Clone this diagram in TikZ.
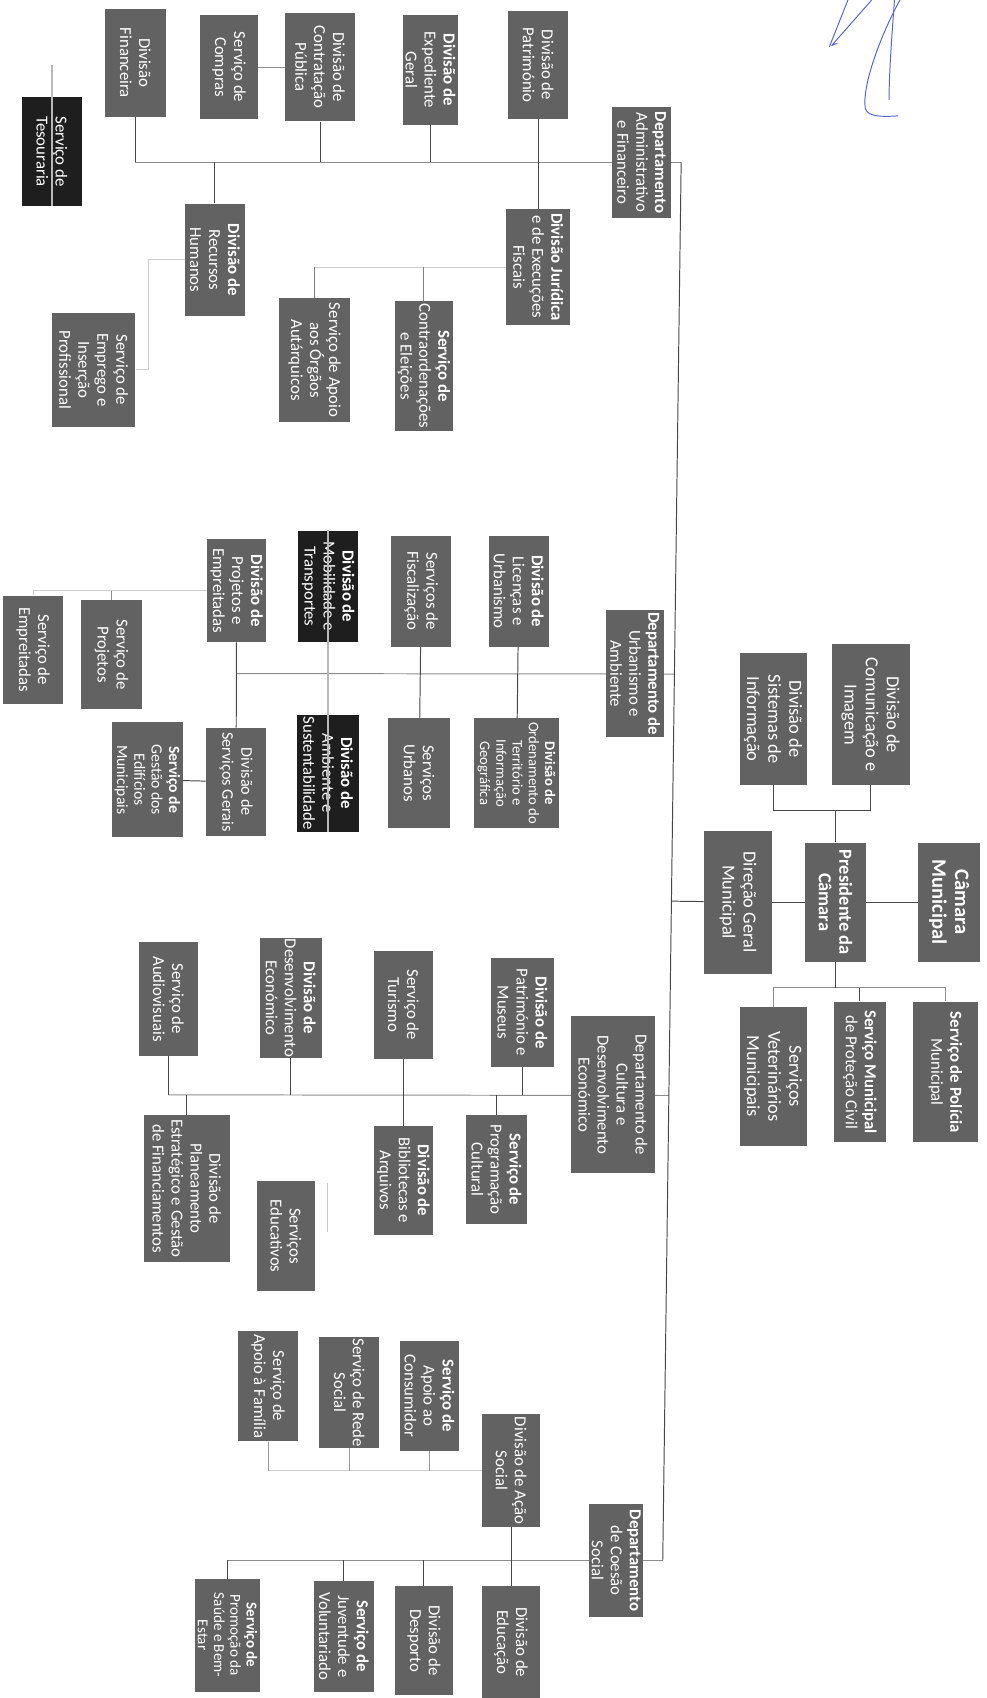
\documentclass[tikz,border=0pt]{standalone}
\usepackage{fontspec}
\setmainfont{Carlito}
\usetikzlibrary{calc, backgrounds}

\definecolor{boxgray}{RGB}{98,98,98}
\definecolor{boxblack}{RGB}{30,30,30}
\definecolor{inkblue}{RGB}{88,100,210}

\tikzset{
  box/.style={rectangle, fill=boxgray, text=white, rotate=-90, align=center, inner sep=1pt,
    minimum width=102pt, minimum height=55pt, font=\fontsize{15.5}{17.5}\selectfont},
  darkbox/.style={box, fill=boxblack},
  bigtext/.style={font=\fontsize{17}{19.5}\selectfont},
  link/.style={draw=black!72, line width=0.9pt},
  bus/.style={draw=black!45, line width=0.9pt},
  faint/.style={draw=black!20, line width=0.8pt},
  thru/.style={draw=black!28, line width=1.4pt},
  sig/.style={draw=inkblue, line width=0.9pt, line cap=round, line join=round}
}

\begin{document}
\begin{tikzpicture}[x=1pt, y=-1pt]
  \useasboundingbox (0,0) rectangle (911,1568);

  % Main trunk ends
  \coordinate (tTop) at (629,150);
  \coordinate (tBot) at (612,1441);

  % Departamento Administrativo e Financeiro
  \node[box, minimum width=100pt, minimum height=56pt] (fin) at (125,58) {Divisão\\Financeira};
  \node[box, minimum width=96pt, minimum height=53pt] (comp) at (211.5,62) {Serviço de\\Compras};
  \node[box, minimum width=100pt, minimum height=65pt] (contr) at (295.5,62) {Divisão de\\Contratação\\Pública};
  \node[box, minimum width=101pt, minimum height=51pt] (exped) at (397.5,64.5) {\textbf{Divisão de}\\Expediente\\Geral};
  \node[box, minimum width=100pt] (patr) at (497,60) {Divisão de\\Património};
  \node[box, minimum width=103pt] (dadm) at (592.5,150) {\textbf{Departamento}\\Administrativo\\e Financeiro};
  \node[darkbox, minimum width=100pt] (tes) at (48,140) {Serviço de\\Tesouraria};
  \node[box, minimum width=104pt] (rh) at (198.5,240) {\textbf{Divisão de}\\Recursos\\Humanos};
  \node[box, minimum width=107pt, minimum height=59pt] (jur) at (497,246.5) {\textbf{Divisão Jurídica}\\e de Execuções\\Fiscais};
  \node[box, minimum width=115pt, minimum height=65pt] (apoio) at (290.5,332.5) {Serviço de Apoio\\aos Órgãos\\Autárquicos};
  \node[box, minimum width=120pt, minimum height=53pt] (contra) at (391.5,338) {\textbf{Serviço de}\\Contraordenações\\e Eleições};
  \node[box, minimum width=105pt, minimum height=77pt] (empr) at (86.5,341.5) {Serviço de\\Emprego e\\Inserção\\Profissional};
  \coordinate (tesTop) at (48,60);
  \coordinate (rhE) at (137,240);

  % Departamento de Urbanismo e Ambiente
  \node[box, minimum width=118pt, minimum height=53pt] (durb) at (586.5,622) {\textbf{Departamento de}\\Urbanismo e\\Ambiente};
  \node[box] (lic) at (479,546) {\textbf{Divisão de}\\Licenças e\\Urbanismo};
  \node[box] (fisc) at (389,546) {Serviços de\\Fiscalização};
  \node[darkbox, minimum width=103pt, minimum height=56pt] (mob) at (303,541.5) {\textbf{Divisão de}\\Mobilidade e\\Transportes};
  \node[box, minimum width=95pt] (projemp) at (218.5,545.5) {\textbf{Divisão de}\\Projetos e\\Empreitadas};
  \node[box, minimum height=78pt, font=\fontsize{13.5}{15}\selectfont] (ord) at (477,714) {\textbf{Divisão de}\\Ordenamento do\\Território e\\Informação\\Geográfica};
  \node[box, minimum height=58pt] (surb) at (387,714) {Serviços\\Urbanos};
  \node[darkbox, minimum width=108pt, minimum height=57pt] (amb) at (303,714) {\textbf{Divisão de}\\Ambiente e\\Sustentabilidade};
  \node[box, minimum width=100pt, minimum height=56pt, font=\fontsize{15}{17.5}\selectfont] (sger) at (218,722) {Divisão de\\Serviços Gerais};
  \node[box, minimum width=106pt, minimum height=66pt, font=\fontsize{14.5}{16}\selectfont] (gest) at (136,720) {\textbf{Serviço de}\\Gestão dos\\Edifícios\\Municipais};
  \node[box, minimum width=101pt, minimum height=56pt] (sproj) at (103,604.5) {Serviço de\\Projetos};
  \node[box, minimum width=100pt] (semp) at (30.5,600) {Serviço de\\Empreitadas};

  % Presidente da Camara
  \node[box, bigtext, minimum width=130pt, minimum height=72pt] (com) at (804,660) {Divisão de\\Comunicação e\\Imagem};
  \node[box, bigtext, minimum width=122pt, minimum height=62pt] (sis) at (714,664) {Divisão de\\Sistemas de\\Informação};
  \node[box, bigtext, minimum width=132pt, minimum height=63pt] (dger) at (681.5,833) {Direção Geral\\Municipal};
  \node[box, minimum width=110pt, minimum height=57pt, font=\fontsize{17}{19}\selectfont\bfseries] (pres) at (771.5,833) {Presidente da\\Câmara};
  \node[box, minimum width=110pt, minimum height=57pt, font=\fontsize{19}{21}\selectfont\bfseries] (cam) at (876.5,833) {Câmara\\Municipal};
  \node[box, bigtext, minimum width=128pt, minimum height=62pt] (vet) at (714,994) {Serviços\\Veterinários\\Municipais};
  \node[box, minimum width=130pt, minimum height=48pt] (prot) at (794,990) {\textbf{Serviço Municipal}\\de Proteção Civil};
  \node[box, minimum width=130pt, minimum height=60pt] (pol) at (873,990) {\textbf{Serviço de Polícia}\\Municipal};
  \coordinate (jcom) at (771.5,748);
  \coordinate (jbel) at (771.5,912);

  % Departamento de Cultura e Desenvolvimento Economico
  \node[box, minimum width=145pt, minimum height=78pt] (dcul) at (566,1011) {Departamento de\\Cultura e\\Desenvolvimento\\Económico};
  \node[box, minimum width=100pt, minimum height=59pt] (pmus) at (482.5,935) {\textbf{Divisão de}\\Património e\\Museus};
  \node[box, minimum width=100pt] (tur) at (372.5,928) {Serviço de\\Turismo};
  \node[box, minimum width=107pt, minimum height=57pt] (deco) at (268.5,921.5) {\textbf{Divisão de}\\Desenvolvimento\\Económico};
  \node[box, minimum width=105pt] (audio) at (155.5,922.5) {Serviço de\\Audiovisuais};
  \node[box, minimum width=100pt, minimum height=57pt] (prog) at (458.5,1080) {\textbf{Serviço de}\\Programação\\Cultural};
  \node[box, minimum width=100pt] (bib) at (372.5,1090) {\textbf{Divisão de}\\Bibliotecas e\\Arquivos};
  \node[box, minimum width=135pt, minimum height=79pt] (plan) at (172.5,1097.5) {Divisão de\\Planeamento\\Estratégico e Gestão\\de Financiamentos};
  \node[box, minimum width=101pt, minimum height=54pt] (educ) at (264,1141.5) {Serviços\\Educativos};
  \coordinate (educA) at (302,1092);
  \coordinate (educB) at (302,1138);

  % Departamento de Coesao Social
  \node[box, minimum width=105pt, minimum height=50pt] (dcoe) at (569,1441) {\textbf{Departamento}\\de Coesão\\Social};
  \node[box, minimum width=104pt, minimum height=54pt] (acao) at (472,1358) {Divisão de Ação\\Social};
  \node[box] (cons) at (396.5,1289) {\textbf{Serviço de}\\Apoio ao\\Consumidor};
  \node[box] (rede) at (322.5,1286) {Serviço de Rede\\Social};
  \node[box] (fam) at (247.5,1280) {Serviço de\\Apoio à Família};
  \node[box, minimum width=103pt, minimum height=54pt] (edu) at (472,1516.5) {Divisão de\\Educação};
  \node[box, minimum width=100pt, minimum height=53pt] (desp) at (391.5,1515) {Divisão de\\Desporto};
  \node[box] (juv) at (317.5,1511) {\textbf{Serviço de}\\Juventude e\\Voluntariado};
  \node[box, minimum width=104pt, minimum height=60pt, font=\fontsize{14}{15}\selectfont] (saude) at (210,1510) {\textbf{Serviço de}\\Promoção da\\Saúde e Bem-\\Estar};

  % Connectors behind the boxes
  \begin{scope}[on background layer]
    % admin
    \draw[bus] (fin |- dadm) -- (tTop);
    \draw[link] (fin) -- (fin |- dadm);
    \draw[link] (contr) -- (contr |- dadm);
    \draw[link] (exped) -- (exped |- dadm);
    \draw[link] (rh) -- (rh |- dadm);
    \draw[link] (patr) -- (jur);
    \draw[bus] (comp) -- (contr);
    \draw[faint] (jur) -- (apoio |- jur);
    \draw[link, black!50] (apoio) -- (apoio |- jur);
    \draw[link, black!50] (contra) -- (contra |- jur);
    \draw[faint] (rh) -- (rhE) |- (empr);
    % urbanismo
    \draw[bus] (projemp |- durb) -- ($(tTop)!(durb)!(tBot)$);
    \draw[link] (lic) -- (ord);
    \draw[link] (fisc) -- (surb);
    \draw[link] (projemp) -- (sger);
    \draw[link] (sger) -- (gest);
    \draw[faint] (projemp) -- (semp |- projemp);
    \draw[link, black!45] (sproj) -- (sproj |- projemp);
    \draw[faint] (semp) -- (semp |- projemp);
    % presidente
    \draw[link] (dger) -- ($(tTop)!(dger)!(tBot)$);
    \draw[link] (dger) -- (cam);
    \draw[link] (sis) |- (jcom) -| (com);
    \draw[link] (pres) -- (jcom);
    \draw[bus] (vet) |- (jbel) -| (pol);
    \draw[link] (pres) -- (jbel);
    \draw[link] (prot) -- (prot |- jbel);
    % cultura
    \draw[bus] (audio |- dcul) -- ($(tTop)!(dcul)!(tBot)$);
    \draw[link] (pmus) -- (pmus |- dcul);
    \draw[link] (tur) -- (tur |- dcul);
    \draw[link] (deco) -- (deco |- dcul);
    \draw[link] (audio) -- (audio |- dcul);
    \draw[link] (prog) -- (prog |- dcul);
    \draw[link] (bib) -- (bib |- dcul);
    \draw[link] (plan) -- (plan |- dcul);
    \draw[faint] (educA) -- (educB);
    % coesao social
    \draw[bus] (saude |- dcoe) -- (tBot);
    \draw[link] (acao) -- (edu);
    \draw[link] (desp) -- (desp |- dcoe);
    \draw[link] (juv) -- (juv |- dcoe);
    \draw[link] (saude) -- (saude |- dcoe);
    \draw[faint] (acao) -- (fam |- acao);
    \draw[link, black!40] (cons) -- (cons |- acao);
    \draw[link, black!40] (rede) -- (rede |- acao);
    \draw[link, black!40] (fam) -- (fam |- acao);
  \end{scope}

  % Trunk and lines over the dark boxes
  \draw[link] (tTop) -- (tBot);
  \draw[thru] (tesTop) -- (tes.east);
  \draw[thru] (mob.west) -- (amb.east);

  % Pen mark
  \draw[sig] (783,0) -- (766,43);
  \draw[sig] (805,0) -- (768,42) -- (773,40);
  \draw[sig] (831,0) .. controls (812,35) and (796,80) .. (799,100) .. controls (801,108) and (815,108) .. (829,107);
  \draw[sig] (826,0) .. controls (823,40) and (821,70) .. (821,92);
\end{tikzpicture}
\end{document}
